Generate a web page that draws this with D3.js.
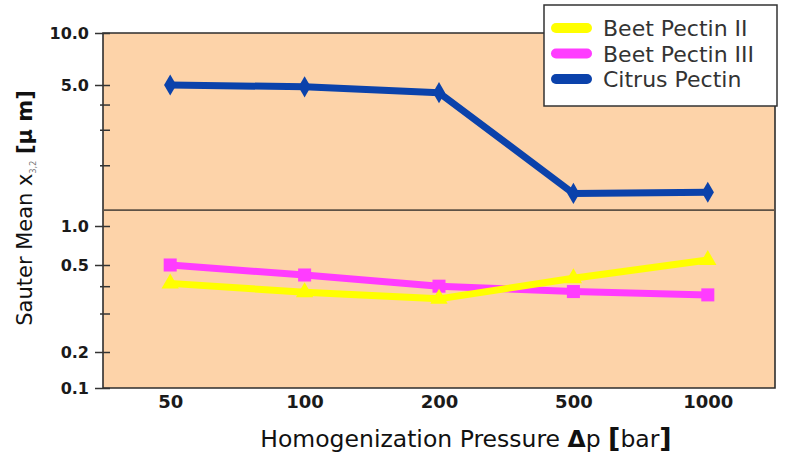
<!DOCTYPE html>
<html>
<head>
<meta charset="utf-8">
<script src="https://cdn.jsdelivr.net/npm/d3@7"></script>
<style>
  body { margin: 0; background: #fff; }
  svg { display: block; }
</style>
</head>
<body>
<svg id="chart" width="785" height="456"></svg>
<script>
// tick labels on the x axis (pressure, bar)
const pressures = ['50', '100', '200', '500', '1000'];

// Sauter mean diameter, µm
const beetPectinII = [0.412, 0.375, 0.35, 0.435, 0.546];
const beetPectinIII = [0.5, 0.45, 0.4, 0.378, 0.365];
const citrusPectin = [5.0, 4.9, 4.58, 1.45, 1.47];

const yMajorTicks = [10, 5, 1, 0.5, 0.2, 0.1];
const yMinorTicks = [4, 3, 2, 0.4, 0.3];
const breakValue = 1.2;

const seriesNames = ['Beet Pectin II', 'Beet Pectin III', 'Citrus Pectin'];

const svg = d3.select('#chart');

/**
 * SIZE DEFINITIONS
 */
const plotLeft = 103;
const plotRight = 775;
const plotTop = 33;
const plotBottom = 388;

/**
 * SCALES
 */
const xScale = d3.scalePoint().domain(pressures).range([plotLeft, plotRight]).padding(0.5);

// broken, piecewise log axis as in the original figure
const yScale = d3
  .scaleLog()
  .domain([0.1, 0.2, 0.5, 1, 5, 10])
  .range([plotBottom, 352, 265, 226, 85, plotTop]);

/**
 * PLOT AREA
 */
svg
  .append('rect')
  .attr('x', plotLeft)
  .attr('y', plotTop)
  .attr('width', plotRight - plotLeft)
  .attr('height', plotBottom - plotTop)
  .attr('fill', '#fdd3a9');

svg
  .append('path')
  .attr('d', `M${plotLeft},${plotBottom}V${plotTop}H${plotRight}V${plotBottom}H${plotLeft}`)
  .attr('fill', 'none')
  .attr('stroke', '#2e2e2e')
  .attr('stroke-width', 1.6);

// axis break line
svg
  .append('line')
  .attr('x1', plotLeft)
  .attr('x2', plotRight)
  .attr('y1', yScale(breakValue))
  .attr('y2', yScale(breakValue))
  .attr('stroke', '#5e5246')
  .attr('stroke-width', 1.8);

/**
 * AXES
 */
const yAxis = d3
  .axisLeft(yScale)
  .tickValues(yMajorTicks)
  .tickSize(8)
  .tickPadding(6)
  .tickFormat(d3.format('.1f'));

const gY = svg.append('g').attr('transform', `translate(${plotLeft},0)`).call(yAxis);
gY.select('.domain').remove();
gY.selectAll('.tick line').attr('x2', 7).attr('x1', -8).attr('stroke', '#333').attr('stroke-width', 1.5);
gY.selectAll('.tick text')
  .attr('font-family', 'DejaVu Sans')
  .attr('font-weight', 'bold')
  .attr('font-size', 16)
  .attr('fill', '#1a1a1a');

const gYMinor = svg
  .append('g')
  .attr('transform', `translate(${plotLeft},0)`)
  .call(d3.axisLeft(yScale).tickValues(yMinorTicks).tickSize(3).tickFormat(''));
gYMinor.select('.domain').remove();
gYMinor.selectAll('.tick line').attr('x2', 7).attr('x1', -3).attr('stroke', '#333').attr('stroke-width', 1.5);

const gX = svg
  .append('g')
  .attr('transform', `translate(0,${plotBottom})`)
  .call(d3.axisBottom(xScale).tickSize(0).tickPadding(7));
gX.select('.domain').remove();
gX.selectAll('.tick text')
  .attr('font-family', 'DejaVu Sans')
  .attr('font-weight', 'bold')
  .attr('font-size', 18)
  .attr('fill', '#1a1a1a');

/**
 * AXIS TITLES
 */
const xTitle = svg
  .append('text')
  .attr('x', 466)
  .attr('y', 447)
  .attr('text-anchor', 'middle')
  .attr('font-family', 'DejaVu Sans')
  .attr('font-size', 23.5)
  .attr('fill', '#111');
xTitle.append('tspan').text('Homogenization Pressure ');
xTitle.append('tspan').attr('font-weight', 'bold').text('Δ');
xTitle.append('tspan').text('p ');
xTitle.append('tspan').attr('font-weight', 'bold').attr('font-size', 27).text('[');
xTitle.append('tspan').text('bar');
xTitle.append('tspan').attr('font-weight', 'bold').attr('font-size', 27).text(']');

const yTitle = svg
  .append('text')
  .attr('transform', 'translate(32,208) rotate(-90)')
  .attr('text-anchor', 'middle')
  .attr('font-family', 'DejaVu Sans')
  .attr('font-size', 21)
  .attr('fill', '#111');
yTitle.append('tspan').text('Sauter Mean x');
yTitle.append('tspan').attr('font-size', 8).attr('dy', 4).attr('fill', '#777').text('3,2');
yTitle.append('tspan').attr('dy', -4).text('  ');
yTitle.append('tspan').attr('font-weight', 'bold').text('[μ m]');

/**
 * SERIES
 */
const series = [
  { name: seriesNames[2], values: citrusPectin, color: '#0b42ab', symbol: d3.symbolDiamond, size: 130 },
  { name: seriesNames[1], values: beetPectinIII, color: '#ff3cff', symbol: d3.symbolSquare, size: 170 },
  { name: seriesNames[0], values: beetPectinII, color: '#ffff00', symbol: d3.symbolTriangle, size: 130 }
];

const line = d3
  .line()
  .x((d, i) => xScale(pressures[i]))
  .y((d) => yScale(d));

series.forEach((s) => {
  svg
    .append('path')
    .attr('d', line(s.values))
    .attr('fill', 'none')
    .attr('stroke', s.color)
    .attr('stroke-width', 7)
    .attr('stroke-linejoin', 'round');

  svg
    .selectAll(null)
    .data(s.values)
    .join('path')
    .attr('transform', (d, i) => `translate(${xScale(pressures[i])},${yScale(d)})`)
    .attr('d', d3.symbol().type(s.symbol).size(s.size))
    .attr('fill', s.color);
});

/**
 * LEGEND
 */
const legend = svg.append('g').attr('transform', 'translate(544,5)');
legend
  .append('rect')
  .attr('width', 233)
  .attr('height', 101)
  .attr('fill', '#fff')
  .attr('stroke', '#333')
  .attr('stroke-width', 1.5);

const legendColors = { 'Beet Pectin II': '#ffff00', 'Beet Pectin III': '#ff3cff', 'Citrus Pectin': '#0b42ab' };

const items = legend
  .selectAll('g.item')
  .data(seriesNames)
  .join('g')
  .attr('class', 'item')
  .attr('transform', (d, i) => `translate(0,${23 + i * 25.5})`);

items
  .append('line')
  .attr('x1', 12)
  .attr('x2', 43)
  .attr('stroke', (d) => legendColors[d])
  .attr('stroke-width', 10)
  .attr('stroke-linecap', 'round');

items
  .append('text')
  .attr('x', 59)
  .attr('y', 8)
  .attr('font-family', 'DejaVu Sans')
  .attr('font-size', 22)
  .attr('fill', '#333')
  .text((d) => d);
</script>
</body>
</html>
